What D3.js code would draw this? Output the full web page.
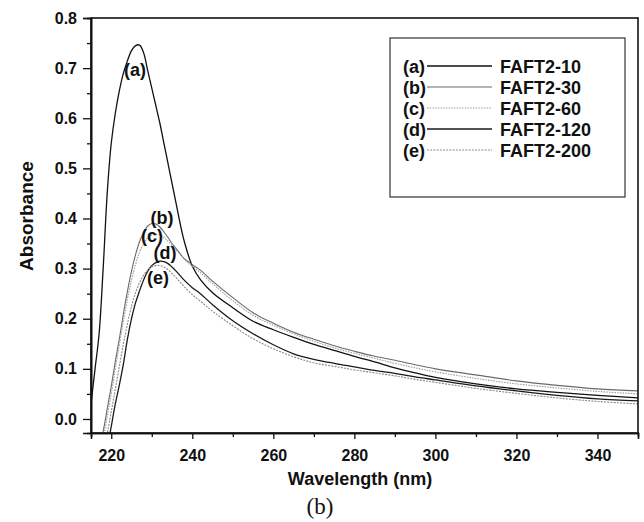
<!DOCTYPE html>
<html>
<head>
<meta charset="utf-8">
<script src="https://cdn.jsdelivr.net/npm/d3@7"></script>
<style>
  body { margin: 0; background: #fff; }
  svg text { font-family: "Liberation Sans", Arial, sans-serif; fill: #111; }
</style>
</head>
<body>
<svg id="chart" width="644" height="522"></svg>
<script>
// wavelength grid (nm) shared by all spectra
const wavelength = [215,216,217,218,219,220,221,222,223,224,225,226,227,228,229,230,231,232,233,234,235,236,237,238,
  240,242,245,250,255,260,265,270,275,280,285,290,295,300,310,320,330,340,350];

// absorbance (null = below the axis)
const absA = [0.03,0.10,0.17,0.30,0.45,0.55,0.61,0.655,0.69,0.715,0.735,0.745,0.746,0.73,0.695,0.66,0.625,0.59,0.55,0.51,0.47,0.43,0.39,0.355,
  0.305,0.278,0.252,0.222,0.195,0.178,0.163,0.149,0.137,0.125,0.114,0.102,0.092,0.083,0.07,0.06,0.053,0.047,0.042];
const absB = [null,null,-0.06,-0.025,0.02,0.065,0.115,0.16,0.21,0.255,0.295,0.328,0.354,0.372,0.385,0.39,0.389,0.383,0.373,0.362,0.35,0.34,0.33,0.32,
  0.308,0.297,0.275,0.242,0.212,0.191,0.173,0.159,0.146,0.135,0.125,0.117,0.108,0.1,0.088,0.076,0.067,0.06,0.056];
const absC = [null,null,null,-0.04,0.005,0.05,0.1,0.148,0.195,0.24,0.277,0.308,0.333,0.35,0.361,0.367,0.369,0.367,0.362,0.355,0.346,0.337,0.328,0.319,
  0.305,0.292,0.27,0.236,0.207,0.187,0.17,0.155,0.142,0.131,0.121,0.111,0.102,0.094,0.081,0.07,0.062,0.055,0.05];
const absD = [null,null,null,null,-0.06,-0.015,0.03,0.068,0.11,0.16,0.2,0.232,0.256,0.278,0.295,0.306,0.312,0.315,0.314,0.31,0.303,0.295,0.286,0.277,
  0.262,0.25,0.228,0.196,0.17,0.148,0.13,0.119,0.111,0.104,0.097,0.091,0.084,0.078,0.066,0.056,0.047,0.04,0.036];
const absE = [null,null,null,-0.07,-0.03,0.015,0.06,0.105,0.15,0.19,0.225,0.252,0.272,0.287,0.297,0.303,0.306,0.306,0.303,0.298,0.29,0.282,0.273,0.264,
  0.248,0.235,0.215,0.186,0.16,0.14,0.124,0.112,0.105,0.098,0.092,0.086,0.079,0.073,0.061,0.051,0.042,0.035,0.03];

const seriesTags = ["(a)", "(b)", "(c)", "(d)", "(e)"];
const seriesNames = ["FAFT2-10", "FAFT2-30", "FAFT2-60", "FAFT2-120", "FAFT2-200"];
const xTicks = [220, 240, 260, 280, 300, 320, 340];
const xMinor = [230, 250, 270, 290, 310, 330];
const yTicks = [0.0, 0.1, 0.2, 0.3, 0.4, 0.5, 0.6, 0.7, 0.8];
const yMinor = [0.05, 0.15, 0.25, 0.35, 0.45, 0.55, 0.65, 0.75];

const styles = [
  { color: "#111", width: 1.3, dash: null },
  { color: "#6a6a6a", width: 1.1, dash: null },
  { color: "#9a9a9a", width: 1.1, dash: "1.5,1.2" },
  { color: "#1a1a1a", width: 1.3, dash: null },
  { color: "#8a8a8a", width: 1.1, dash: "2,1.2" }
];
const allSeries = [absA, absB, absC, absD, absE];

const plotL = 91, plotR = 638, plotT = 18, plotB = 433;
const svg = d3.select("#chart");

const x = d3.scaleLinear().domain([215, 350]).range([plotL, plotR]);
const y = d3.scaleLinear().domain([-0.028, 0.8]).range([plotB, plotT]);

svg.append("clipPath").attr("id", "plotClip")
  .append("rect")
  .attr("x", plotL).attr("y", plotT)
  .attr("width", plotR - plotL).attr("height", plotB - plotT);

/* spectra */
const line = d3.line()
  .defined(d => d[1] !== null)
  .x(d => x(d[0]))
  .y(d => y(d[1]))
  .curve(d3.curveCatmullRom.alpha(0.5));

const plot = svg.append("g").attr("clip-path", "url(#plotClip)");
allSeries.forEach((vals, i) => {
  plot.append("path")
    .datum(wavelength.map((w, j) => [w, vals[j]]))
    .attr("fill", "none")
    .attr("stroke", styles[i].color)
    .attr("stroke-width", styles[i].width)
    .attr("stroke-dasharray", styles[i].dash)
    .attr("d", line);
});

/* axes */
const xAxis = svg.append("g").attr("transform", `translate(0,${plotB})`)
  .call(d3.axisBottom(x).tickValues(xTicks).tickSize(6).tickFormat(d3.format("d")));
xAxis.selectAll("text").attr("y", 28).attr("dy", 0)
  .style("font-size", "16px").style("font-weight", "bold");
svg.append("g").attr("transform", `translate(0,${plotB})`)
  .call(d3.axisBottom(x).tickValues(xMinor).tickSize(4).tickFormat(""));

const yAxis = svg.append("g").attr("transform", `translate(${plotL},0)`)
  .call(d3.axisLeft(y).tickValues(yTicks).tickSize(8).tickPadding(6).tickFormat(d3.format(".1f")));
yAxis.selectAll("text").style("font-size", "16px").style("font-weight", "bold");
svg.append("g").attr("transform", `translate(${plotL},0)`)
  .call(d3.axisLeft(y).tickValues(yMinor).tickSize(4).tickFormat(""));

svg.selectAll(".domain").attr("stroke", "#111").attr("stroke-width", 1.6);
svg.selectAll(".tick line").attr("stroke", "#111").attr("stroke-width", 1.3);

// frame (top + right)
svg.append("rect")
  .attr("x", plotL).attr("y", plotT)
  .attr("width", plotR - plotL).attr("height", plotB - plotT)
  .attr("fill", "none").attr("stroke", "#111").attr("stroke-width", 1.6);

/* titles */
svg.append("text")
  .attr("x", 360).attr("y", 485)
  .attr("text-anchor", "middle")
  .style("font-size", "18px").style("font-weight", "bold")
  .text("Wavelength (nm)");

svg.append("text")
  .attr("transform", "translate(33,216) rotate(-90)")
  .attr("text-anchor", "middle")
  .style("font-size", "19px").style("font-weight", "bold")
  .text("Absorbance");

svg.append("text")
  .attr("x", 320).attr("y", 514)
  .attr("text-anchor", "middle")
  .style("font-family", "'Liberation Serif', 'Times New Roman', serif")
  .style("font-size", "23px")
  .text("(b)");

/* curve labels */
const tagPos = [[135, 76], [162, 224], [152, 242], [165, 259], [158, 284]];
seriesTags.forEach((t, i) => {
  svg.append("text")
    .attr("x", tagPos[i][0]).attr("y", tagPos[i][1])
    .attr("text-anchor", "middle")
    .style("font-size", "18px").style("font-weight", "bold")
    .text(t);
});

/* legend */
const legend = svg.append("g");
legend.append("rect")
  .attr("x", 390).attr("y", 38).attr("width", 235).attr("height", 159)
  .attr("fill", "#fff").attr("stroke", "#333").attr("stroke-width", 1.2);

seriesNames.forEach((name, i) => {
  const cy = 66 + i * 21;
  legend.append("text")
    .attr("x", 403).attr("y", cy + 6.5)
    .style("font-size", "18px").style("font-weight", "bold")
    .text(seriesTags[i]);
  legend.append("line")
    .attr("x1", 427).attr("x2", 492).attr("y1", cy).attr("y2", cy)
    .attr("stroke", styles[i].color)
    .attr("stroke-width", styles[i].width)
    .attr("stroke-dasharray", styles[i].dash);
  legend.append("text")
    .attr("x", 500).attr("y", cy + 6.5)
    .style("font-size", "18px").style("font-weight", "bold")
    .text(name);
});
</script>
</body>
</html>
